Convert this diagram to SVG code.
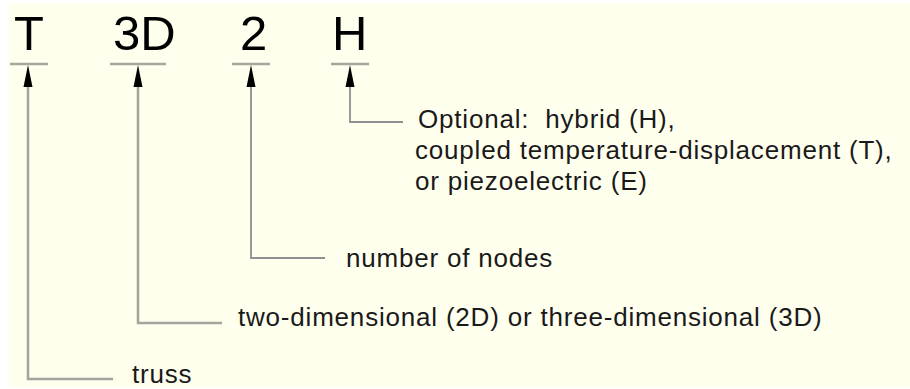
<svg xmlns="http://www.w3.org/2000/svg" width="910" height="389" viewBox="0 0 910 389">
<defs>
<style>
.big{font-family:"Liberation Sans",Arial,sans-serif;font-size:49px;fill:#000}
.lbl{font-family:"Liberation Sans",Arial,sans-serif;font-size:26px;letter-spacing:0.8px;fill:#1a1a1a;white-space:pre}
.bar{stroke:#a8a8a0;stroke-width:2.5;fill:none}
.lead{stroke:#a4a49c;stroke-width:2.5;fill:none}
.lead2{stroke:#909090;stroke-width:1.8;fill:none}
.head{fill:#000}
</style>
</defs>
<rect x="9" y="3" width="901" height="385" fill="#ffffee"/>
<g id="codes">
<g id="code-T"><text class="big" x="14" y="50">T</text><line class="bar" x1="10" y1="64" x2="48" y2="64"/></g>
<g id="code-3D"><text class="big" x="113" y="50">3D</text><line class="bar" x1="110" y1="64" x2="166" y2="64"/></g>
<g id="code-2"><text class="big" x="240" y="50">2</text><line class="bar" x1="232" y1="64" x2="270" y2="64"/></g>
<g id="code-H"><text class="big" x="332" y="50">H</text><line class="bar" x1="331" y1="64" x2="369" y2="64"/></g>
</g>
<g id="connectors">
<path class="lead" d="M28,86 V379 H113"/>
<path class="lead" d="M138,86 V323 H222"/>
<path class="lead2" d="M251,86 V258 H325"/>
<path class="lead2" d="M350,86 V122 H403"/>
<polygon class="head" points="28,65 23.5,87 32.5,87"/>
<polygon class="head" points="138,65 133.5,87 142.5,87"/>
<polygon class="head" points="251,65 246.5,87 255.5,87"/>
<polygon class="head" points="350,65 345.5,87 354.5,87"/>
</g>
<g id="label-H">
<text class="lbl" x="418" y="128">Optional:  hybrid (H),</text>
<text class="lbl" x="415" y="159">coupled temperature-displacement (T),</text>
<text class="lbl" x="415" y="190">or piezoelectric (E)</text>
</g>
<g id="label-2"><text class="lbl" x="346" y="267">number of nodes</text></g>
<g id="label-3D"><text class="lbl" x="238" y="326">two-dimensional (2D) or three-dimensional (3D)</text></g>
<g id="label-T"><text class="lbl" x="132" y="383">truss</text></g>
</svg>
